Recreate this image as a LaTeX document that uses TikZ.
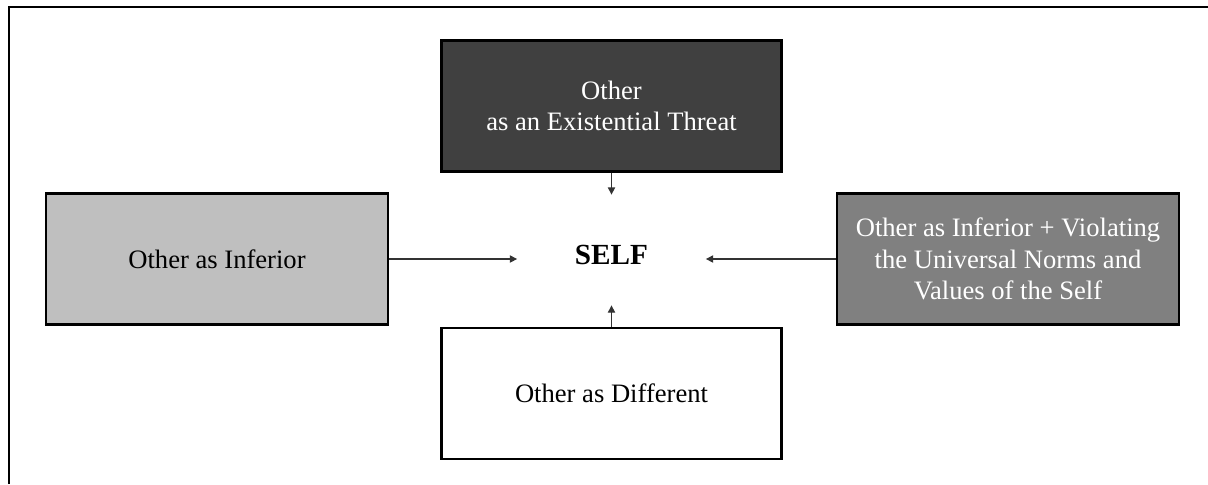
\documentclass[tikz,border=0pt]{standalone}
\usepackage{fontspec}
\setmainfont{Liberation Serif}
\usepackage{xcolor}
\usepackage{tikz}
\usetikzlibrary{arrows.meta,positioning}

\begin{document}
\begin{tikzpicture}[
x=1pt, y=1pt,
other/.style={draw, line width=1.1pt, minimum width=170pt, minimum height=65.5pt, align=center, font=\fontsize{13.3}{15.8}\selectfont},
self/.style={minimum width=94pt, minimum height=55pt, text height=14.7pt, inner sep=0pt, font=\fontsize{14.6}{16}\selectfont\bfseries},
arr/.style={-{Triangle[length=3.6pt,width=3.6pt]}, line width=0.6pt, draw=black!80}
]
\useasboundingbox (0,0) rectangle (604,-242);
% frame
\draw[line width=0.8pt] (4.5,-242) -- (4.5,-3.5) -- (604,-3.5);

\node[self] (self) at (305.75,-125) {SELF};
\node[other, fill=black!75, text=white] (threat) at (305.75,-53) {Other\\as an Existential Threat};
\node[other, fill=black!25, minimum width=171pt] (inferior) at (108.5,-129.5) {Other as Inferior};
\node[other, fill=black!50, text=white, minimum width=171pt] (violating) at (504,-129.5) {Other as Inferior + Violating\\the Universal Norms and\\Values of the Self};
\node[other, fill=white] (different) at (305.75,-196.75) {Other as Different};

\draw[arr] (threat) -- (self);
\draw[arr] (inferior.east) -- (inferior.east -| self.west);
\draw[arr] (violating.west) -- (violating.west -| self.east);
\draw[arr] (different) -- (self);
\end{tikzpicture}
\end{document}
